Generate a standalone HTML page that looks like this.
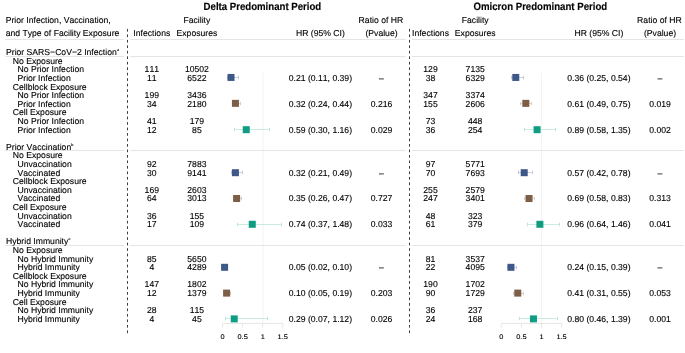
<!DOCTYPE html>
<html><head><meta charset="utf-8"><style>
html,body{margin:0;padding:0;background:#fff;}
body{width:685px;height:353px;overflow:hidden;}
svg{display:block;will-change:transform;font-family:"Liberation Sans",sans-serif;font-size:8.65px;font-kerning:none;text-rendering:geometricPrecision;}
text{fill:#000;stroke:#000;stroke-width:0.12px;}
</style></head><body>
<svg width="685" height="353" viewBox="0 0 685 353">
<rect width="685" height="353" fill="#fff"/>
<text x="5.70" y="23.00">Prior Infection, Vaccination,</text>
<text x="5.70" y="35.60">and Type of Facility Exposure</text>
<text transform="translate(262.40 10.20) scale(1 1.1)" text-anchor="middle" font-size="9.65" font-weight="bold" stroke-width="0.1">Delta Predominant Period</text>
<text x="196.90" y="23.00" text-anchor="middle">Facility</text>
<text x="151.80" y="35.60" text-anchor="middle">Infections</text>
<text x="196.90" y="35.60" text-anchor="middle">Exposures</text>
<text x="320.40" y="35.60" text-anchor="middle">HR (95% CI)</text>
<text x="380.90" y="23.00" text-anchor="middle">Ratio of HR</text>
<text x="381.50" y="35.60" text-anchor="middle">(Pvalue)</text>
<text transform="translate(540.30 10.20) scale(1 1.1)" text-anchor="middle" font-size="9.65" font-weight="bold" stroke-width="0.1">Omicron Predominant Period</text>
<text x="475.20" y="23.00" text-anchor="middle">Facility</text>
<text x="430.50" y="35.60" text-anchor="middle">Infections</text>
<text x="475.20" y="35.60" text-anchor="middle">Exposures</text>
<text x="598.90" y="35.60" text-anchor="middle">HR (95% CI)</text>
<text x="659.40" y="23.00" text-anchor="middle">Ratio of HR</text>
<text x="660.00" y="35.60" text-anchor="middle">(Pvalue)</text>
<line x1="263.00" y1="73" x2="263.00" y2="323.4" stroke="#f3f3f3" stroke-width="1"/>
<line x1="541.50" y1="73" x2="541.50" y2="323.4" stroke="#f3f3f3" stroke-width="1"/>
<line x1="5" y1="39.5" x2="124" y2="39.5" stroke="#e5e5e5" stroke-width="1"/>
<line x1="130" y1="39.5" x2="405.7" y2="39.5" stroke="#e5e5e5" stroke-width="1"/>
<line x1="412" y1="39.5" x2="683.7" y2="39.5" stroke="#e5e5e5" stroke-width="1"/>
<line x1="5" y1="56.5" x2="124" y2="56.5" stroke="#e5e5e5" stroke-width="1"/>
<line x1="130" y1="56.5" x2="405.7" y2="56.5" stroke="#e5e5e5" stroke-width="1"/>
<line x1="412" y1="56.5" x2="683.7" y2="56.5" stroke="#e5e5e5" stroke-width="1"/>
<line x1="5" y1="150.5" x2="124" y2="150.5" stroke="#e5e5e5" stroke-width="1"/>
<line x1="130" y1="150.5" x2="405.7" y2="150.5" stroke="#e5e5e5" stroke-width="1"/>
<line x1="412" y1="150.5" x2="683.7" y2="150.5" stroke="#e5e5e5" stroke-width="1"/>
<line x1="5" y1="245.5" x2="124" y2="245.5" stroke="#e5e5e5" stroke-width="1"/>
<line x1="130" y1="245.5" x2="405.7" y2="245.5" stroke="#e5e5e5" stroke-width="1"/>
<line x1="412" y1="245.5" x2="683.7" y2="245.5" stroke="#e5e5e5" stroke-width="1"/>
<text x="6.00" y="55.20">Prior SARS−CoV−2 Infection</text>
<text x="116.96" y="51.20" font-size="3.8" stroke-width="0.25">a</text>
<text x="12.80" y="63.80">No Exposure</text>
<text x="17.50" y="72.40">No Prior Infection</text>
<text x="17.50" y="81.00">Prior Infection</text>
<text x="151.80" y="72.40" text-anchor="middle">111</text>
<text x="196.90" y="72.40" text-anchor="middle">10502</text>
<text x="151.80" y="81.00" text-anchor="middle">11</text>
<text x="196.90" y="81.00" text-anchor="middle">6522</text>
<text x="320.40" y="81.00" text-anchor="middle">0.21 (0.11, 0.39)</text>
<text x="381.50" y="81.00" text-anchor="middle">–</text>
<line x1="227.01" y1="77.50" x2="238.24" y2="77.50" stroke="#cbd2e1" stroke-width="1"/>
<line x1="227.50" y1="75.75" x2="227.50" y2="79.25" stroke="#c2cadc" stroke-width="1"/>
<line x1="238.50" y1="75.75" x2="238.50" y2="79.25" stroke="#c2cadc" stroke-width="1"/>
<rect x="227.52" y="73.95" width="7" height="7" fill="#3e588a"/>
<text x="430.50" y="72.40" text-anchor="middle">129</text>
<text x="475.20" y="72.40" text-anchor="middle">7135</text>
<text x="430.50" y="81.00" text-anchor="middle">38</text>
<text x="475.20" y="81.00" text-anchor="middle">6329</text>
<text x="598.90" y="81.00" text-anchor="middle">0.36 (0.25, 0.54)</text>
<text x="660.00" y="81.00" text-anchor="middle">–</text>
<line x1="511.35" y1="77.50" x2="523.01" y2="77.50" stroke="#cbd2e1" stroke-width="1"/>
<line x1="511.50" y1="75.75" x2="511.50" y2="79.25" stroke="#c2cadc" stroke-width="1"/>
<line x1="523.50" y1="75.75" x2="523.50" y2="79.25" stroke="#c2cadc" stroke-width="1"/>
<rect x="512.27" y="73.95" width="7" height="7" fill="#3e588a"/>
<text x="12.80" y="89.60">Cellblock Exposure</text>
<text x="17.50" y="98.20">No Prior Infection</text>
<text x="17.50" y="106.80">Prior Infection</text>
<text x="151.80" y="98.20" text-anchor="middle">199</text>
<text x="196.90" y="98.20" text-anchor="middle">3436</text>
<text x="151.80" y="106.80" text-anchor="middle">34</text>
<text x="196.90" y="106.80" text-anchor="middle">2180</text>
<text x="320.40" y="106.80" text-anchor="middle">0.32 (0.24, 0.44)</text>
<text x="381.50" y="106.80" text-anchor="middle">0.216</text>
<line x1="232.22" y1="103.50" x2="240.24" y2="103.50" stroke="#e0d7cf" stroke-width="1"/>
<line x1="232.50" y1="101.75" x2="232.50" y2="105.25" stroke="#d9cfc6" stroke-width="1"/>
<line x1="240.50" y1="101.75" x2="240.50" y2="105.25" stroke="#d9cfc6" stroke-width="1"/>
<rect x="231.93" y="99.85" width="7" height="7" fill="#7d5e46"/>
<text x="430.50" y="98.20" text-anchor="middle">347</text>
<text x="475.20" y="98.20" text-anchor="middle">3374</text>
<text x="430.50" y="106.80" text-anchor="middle">155</text>
<text x="475.20" y="106.80" text-anchor="middle">2606</text>
<text x="598.90" y="106.80" text-anchor="middle">0.61 (0.49, 0.75)</text>
<text x="660.00" y="106.80" text-anchor="middle">0.019</text>
<line x1="521.00" y1="103.50" x2="531.45" y2="103.50" stroke="#e0d7cf" stroke-width="1"/>
<line x1="520.50" y1="101.75" x2="520.50" y2="105.25" stroke="#d9cfc6" stroke-width="1"/>
<line x1="531.50" y1="101.75" x2="531.50" y2="105.25" stroke="#d9cfc6" stroke-width="1"/>
<rect x="522.32" y="99.85" width="7" height="7" fill="#7d5e46"/>
<text x="12.80" y="115.40">Cell Exposure</text>
<text x="17.50" y="124.00">No Prior Infection</text>
<text x="17.50" y="132.60">Prior Infection</text>
<text x="151.80" y="124.00" text-anchor="middle">41</text>
<text x="196.90" y="124.00" text-anchor="middle">179</text>
<text x="151.80" y="132.60" text-anchor="middle">12</text>
<text x="196.90" y="132.60" text-anchor="middle">85</text>
<text x="320.40" y="132.60" text-anchor="middle">0.59 (0.30, 1.16)</text>
<text x="381.50" y="132.60" text-anchor="middle">0.029</text>
<line x1="234.63" y1="129.50" x2="269.12" y2="129.50" stroke="#cbebe4" stroke-width="1"/>
<line x1="234.50" y1="127.75" x2="234.50" y2="131.25" stroke="#bde5dc" stroke-width="1"/>
<line x1="269.50" y1="127.75" x2="269.50" y2="131.25" stroke="#bde5dc" stroke-width="1"/>
<rect x="242.76" y="126.20" width="7" height="7" fill="#0e9d82"/>
<text x="430.50" y="124.00" text-anchor="middle">73</text>
<text x="475.20" y="124.00" text-anchor="middle">448</text>
<text x="430.50" y="132.60" text-anchor="middle">36</text>
<text x="475.20" y="132.60" text-anchor="middle">254</text>
<text x="598.90" y="132.60" text-anchor="middle">0.89 (0.58, 1.35)</text>
<text x="660.00" y="132.60" text-anchor="middle">0.002</text>
<line x1="524.62" y1="129.50" x2="555.57" y2="129.50" stroke="#cbebe4" stroke-width="1"/>
<line x1="524.50" y1="127.75" x2="524.50" y2="131.25" stroke="#bde5dc" stroke-width="1"/>
<line x1="555.50" y1="127.75" x2="555.50" y2="131.25" stroke="#bde5dc" stroke-width="1"/>
<rect x="533.58" y="126.20" width="7" height="7" fill="#0e9d82"/>
<text x="6.00" y="149.80">Prior Vaccination</text>
<text x="71.29" y="145.80" font-size="3.8" stroke-width="0.25">b</text>
<text x="12.80" y="158.40">No Exposure</text>
<text x="17.50" y="167.00">Unvaccination</text>
<text x="17.50" y="175.60">Vaccinated</text>
<text x="151.80" y="167.00" text-anchor="middle">92</text>
<text x="196.90" y="167.00" text-anchor="middle">7883</text>
<text x="151.80" y="175.60" text-anchor="middle">30</text>
<text x="196.90" y="175.60" text-anchor="middle">9141</text>
<text x="320.40" y="175.60" text-anchor="middle">0.32 (0.21, 0.49)</text>
<text x="381.50" y="175.60" text-anchor="middle">–</text>
<line x1="231.02" y1="172.50" x2="242.25" y2="172.50" stroke="#cbd2e1" stroke-width="1"/>
<line x1="231.50" y1="170.75" x2="231.50" y2="174.25" stroke="#c2cadc" stroke-width="1"/>
<line x1="242.50" y1="170.75" x2="242.50" y2="174.25" stroke="#c2cadc" stroke-width="1"/>
<rect x="231.93" y="169.20" width="7" height="7" fill="#3e588a"/>
<text x="430.50" y="167.00" text-anchor="middle">97</text>
<text x="475.20" y="167.00" text-anchor="middle">5771</text>
<text x="430.50" y="175.60" text-anchor="middle">70</text>
<text x="475.20" y="175.60" text-anchor="middle">7693</text>
<text x="598.90" y="175.60" text-anchor="middle">0.57 (0.42, 0.78)</text>
<text x="660.00" y="175.60" text-anchor="middle">–</text>
<line x1="518.18" y1="172.50" x2="532.66" y2="172.50" stroke="#cbd2e1" stroke-width="1"/>
<line x1="518.50" y1="170.75" x2="518.50" y2="174.25" stroke="#c2cadc" stroke-width="1"/>
<line x1="532.50" y1="170.75" x2="532.50" y2="174.25" stroke="#c2cadc" stroke-width="1"/>
<rect x="520.71" y="169.20" width="7" height="7" fill="#3e588a"/>
<text x="12.80" y="184.20">Cellblock Exposure</text>
<text x="17.50" y="192.80">Unvaccination</text>
<text x="17.50" y="201.40">Vaccinated</text>
<text x="151.80" y="192.80" text-anchor="middle">169</text>
<text x="196.90" y="192.80" text-anchor="middle">2603</text>
<text x="151.80" y="201.40" text-anchor="middle">64</text>
<text x="196.90" y="201.40" text-anchor="middle">3013</text>
<text x="320.40" y="201.40" text-anchor="middle">0.35 (0.26, 0.47)</text>
<text x="381.50" y="201.40" text-anchor="middle">0.727</text>
<line x1="233.03" y1="198.50" x2="241.45" y2="198.50" stroke="#e0d7cf" stroke-width="1"/>
<line x1="233.50" y1="196.75" x2="233.50" y2="200.25" stroke="#d9cfc6" stroke-width="1"/>
<line x1="241.50" y1="196.75" x2="241.50" y2="200.25" stroke="#d9cfc6" stroke-width="1"/>
<rect x="233.13" y="195.00" width="7" height="7" fill="#7d5e46"/>
<text x="430.50" y="192.80" text-anchor="middle">255</text>
<text x="475.20" y="192.80" text-anchor="middle">2579</text>
<text x="430.50" y="201.40" text-anchor="middle">247</text>
<text x="475.20" y="201.40" text-anchor="middle">3401</text>
<text x="598.90" y="201.40" text-anchor="middle">0.69 (0.58, 0.83)</text>
<text x="660.00" y="201.40" text-anchor="middle">0.313</text>
<line x1="524.62" y1="198.50" x2="534.67" y2="198.50" stroke="#e0d7cf" stroke-width="1"/>
<line x1="524.50" y1="196.75" x2="524.50" y2="200.25" stroke="#d9cfc6" stroke-width="1"/>
<line x1="534.50" y1="196.75" x2="534.50" y2="200.25" stroke="#d9cfc6" stroke-width="1"/>
<rect x="525.54" y="195.00" width="7" height="7" fill="#7d5e46"/>
<text x="12.80" y="210.00">Cell Exposure</text>
<text x="17.50" y="218.60">Unvaccination</text>
<text x="17.50" y="227.20">Vaccinated</text>
<text x="151.80" y="218.60" text-anchor="middle">36</text>
<text x="196.90" y="218.60" text-anchor="middle">155</text>
<text x="151.80" y="227.20" text-anchor="middle">17</text>
<text x="196.90" y="227.20" text-anchor="middle">109</text>
<text x="320.40" y="227.20" text-anchor="middle">0.74 (0.37, 1.48)</text>
<text x="381.50" y="227.20" text-anchor="middle">0.033</text>
<line x1="237.44" y1="224.50" x2="281.95" y2="224.50" stroke="#cbebe4" stroke-width="1"/>
<line x1="237.50" y1="222.75" x2="237.50" y2="226.25" stroke="#bde5dc" stroke-width="1"/>
<line x1="281.50" y1="222.75" x2="281.50" y2="226.25" stroke="#bde5dc" stroke-width="1"/>
<rect x="248.77" y="220.80" width="7" height="7" fill="#0e9d82"/>
<text x="430.50" y="218.60" text-anchor="middle">48</text>
<text x="475.20" y="218.60" text-anchor="middle">323</text>
<text x="430.50" y="227.20" text-anchor="middle">61</text>
<text x="475.20" y="227.20" text-anchor="middle">379</text>
<text x="598.90" y="227.20" text-anchor="middle">0.96 (0.64, 1.46)</text>
<text x="660.00" y="227.20" text-anchor="middle">0.041</text>
<line x1="527.03" y1="224.50" x2="559.99" y2="224.50" stroke="#cbebe4" stroke-width="1"/>
<line x1="527.50" y1="222.75" x2="527.50" y2="226.25" stroke="#bde5dc" stroke-width="1"/>
<line x1="559.50" y1="222.75" x2="559.50" y2="226.25" stroke="#bde5dc" stroke-width="1"/>
<rect x="536.39" y="220.80" width="7" height="7" fill="#0e9d82"/>
<text x="6.00" y="244.40">Hybrid Immunity</text>
<text x="68.38" y="240.40" font-size="3.8" stroke-width="0.25">c</text>
<text x="12.80" y="253.00">No Exposure</text>
<text x="17.50" y="261.60">No Hybrid Immunity</text>
<text x="17.50" y="270.20">Hybrid Immunity</text>
<text x="151.80" y="261.60" text-anchor="middle">85</text>
<text x="196.90" y="261.60" text-anchor="middle">5650</text>
<text x="151.80" y="270.20" text-anchor="middle">4</text>
<text x="196.90" y="270.20" text-anchor="middle">4289</text>
<text x="320.40" y="270.20" text-anchor="middle">0.05 (0.02, 0.10)</text>
<text x="381.50" y="270.20" text-anchor="middle">–</text>
<line x1="223.40" y1="267.50" x2="226.61" y2="267.50" stroke="#cbd2e1" stroke-width="1"/>
<line x1="223.50" y1="265.75" x2="223.50" y2="269.25" stroke="#c2cadc" stroke-width="1"/>
<line x1="226.50" y1="265.75" x2="226.50" y2="269.25" stroke="#c2cadc" stroke-width="1"/>
<rect x="221.10" y="263.80" width="7" height="7" fill="#3e588a"/>
<text x="430.50" y="261.60" text-anchor="middle">81</text>
<text x="475.20" y="261.60" text-anchor="middle">3537</text>
<text x="430.50" y="270.20" text-anchor="middle">22</text>
<text x="475.20" y="270.20" text-anchor="middle">4095</text>
<text x="598.90" y="270.20" text-anchor="middle">0.24 (0.15, 0.39)</text>
<text x="660.00" y="270.20" text-anchor="middle">–</text>
<line x1="507.33" y1="267.50" x2="516.98" y2="267.50" stroke="#cbd2e1" stroke-width="1"/>
<line x1="507.50" y1="265.75" x2="507.50" y2="269.25" stroke="#c2cadc" stroke-width="1"/>
<line x1="516.50" y1="265.75" x2="516.50" y2="269.25" stroke="#c2cadc" stroke-width="1"/>
<rect x="507.45" y="263.80" width="7" height="7" fill="#3e588a"/>
<text x="12.80" y="278.80">Cellblock Exposure</text>
<text x="17.50" y="287.40">No Hybrid Immunity</text>
<text x="17.50" y="296.00">Hybrid Immunity</text>
<text x="151.80" y="287.40" text-anchor="middle">147</text>
<text x="196.90" y="287.40" text-anchor="middle">1802</text>
<text x="151.80" y="296.00" text-anchor="middle">12</text>
<text x="196.90" y="296.00" text-anchor="middle">1379</text>
<text x="320.40" y="296.00" text-anchor="middle">0.10 (0.05, 0.19)</text>
<text x="381.50" y="296.00" text-anchor="middle">0.203</text>
<line x1="224.60" y1="293.50" x2="230.22" y2="293.50" stroke="#e0d7cf" stroke-width="1"/>
<line x1="224.50" y1="291.75" x2="224.50" y2="295.25" stroke="#d9cfc6" stroke-width="1"/>
<line x1="230.50" y1="291.75" x2="230.50" y2="295.25" stroke="#d9cfc6" stroke-width="1"/>
<rect x="223.11" y="289.60" width="7" height="7" fill="#7d5e46"/>
<text x="430.50" y="287.40" text-anchor="middle">190</text>
<text x="475.20" y="287.40" text-anchor="middle">1702</text>
<text x="430.50" y="296.00" text-anchor="middle">90</text>
<text x="475.20" y="296.00" text-anchor="middle">1729</text>
<text x="598.90" y="296.00" text-anchor="middle">0.41 (0.31, 0.55)</text>
<text x="660.00" y="296.00" text-anchor="middle">0.053</text>
<line x1="513.76" y1="293.50" x2="523.41" y2="293.50" stroke="#e0d7cf" stroke-width="1"/>
<line x1="513.50" y1="291.75" x2="513.50" y2="295.25" stroke="#d9cfc6" stroke-width="1"/>
<line x1="523.50" y1="291.75" x2="523.50" y2="295.25" stroke="#d9cfc6" stroke-width="1"/>
<rect x="514.28" y="289.60" width="7" height="7" fill="#7d5e46"/>
<text x="12.80" y="304.60">Cell Exposure</text>
<text x="17.50" y="313.20">No Hybrid Immunity</text>
<text x="17.50" y="321.80">Hybrid Immunity</text>
<text x="151.80" y="313.20" text-anchor="middle">28</text>
<text x="196.90" y="313.20" text-anchor="middle">115</text>
<text x="151.80" y="321.80" text-anchor="middle">4</text>
<text x="196.90" y="321.80" text-anchor="middle">45</text>
<text x="320.40" y="321.80" text-anchor="middle">0.29 (0.07, 1.12)</text>
<text x="381.50" y="321.80" text-anchor="middle">0.026</text>
<line x1="225.41" y1="318.50" x2="267.51" y2="318.50" stroke="#cbebe4" stroke-width="1"/>
<line x1="225.50" y1="316.75" x2="225.50" y2="320.25" stroke="#bde5dc" stroke-width="1"/>
<line x1="267.50" y1="316.75" x2="267.50" y2="320.25" stroke="#bde5dc" stroke-width="1"/>
<rect x="230.73" y="315.40" width="7" height="7" fill="#0e9d82"/>
<text x="430.50" y="313.20" text-anchor="middle">36</text>
<text x="475.20" y="313.20" text-anchor="middle">237</text>
<text x="430.50" y="321.80" text-anchor="middle">24</text>
<text x="475.20" y="321.80" text-anchor="middle">168</text>
<text x="598.90" y="321.80" text-anchor="middle">0.80 (0.46, 1.39)</text>
<text x="660.00" y="321.80" text-anchor="middle">0.001</text>
<line x1="519.79" y1="318.50" x2="557.18" y2="318.50" stroke="#cbebe4" stroke-width="1"/>
<line x1="519.50" y1="316.75" x2="519.50" y2="320.25" stroke="#bde5dc" stroke-width="1"/>
<line x1="557.50" y1="316.75" x2="557.50" y2="320.25" stroke="#bde5dc" stroke-width="1"/>
<rect x="529.96" y="315.40" width="7" height="7" fill="#0e9d82"/>
<line x1="222.60" y1="323.4" x2="282.75" y2="323.4" stroke="#e6e6e6" stroke-width="1"/>
<line x1="222.60" y1="323.4" x2="222.60" y2="327.6" stroke="#e6e6e6" stroke-width="1"/>
<text transform="translate(222.60 338.70) scale(1 0.9)" text-anchor="middle" font-size="7.4" fill="#222" stroke="#222">0</text>
<line x1="242.65" y1="323.4" x2="242.65" y2="327.6" stroke="#e6e6e6" stroke-width="1"/>
<text transform="translate(242.65 338.70) scale(1 0.9)" text-anchor="middle" font-size="7.4" fill="#222" stroke="#222">0.5</text>
<line x1="262.70" y1="323.4" x2="262.70" y2="327.6" stroke="#e6e6e6" stroke-width="1"/>
<text transform="translate(262.70 338.70) scale(1 0.9)" text-anchor="middle" font-size="7.4" fill="#222" stroke="#222">1</text>
<line x1="282.75" y1="323.4" x2="282.75" y2="327.6" stroke="#e6e6e6" stroke-width="1"/>
<text transform="translate(282.75 338.70) scale(1 0.9)" text-anchor="middle" font-size="7.4" fill="#222" stroke="#222">1.5</text>
<line x1="501.30" y1="323.4" x2="561.60" y2="323.4" stroke="#e6e6e6" stroke-width="1"/>
<line x1="501.30" y1="323.4" x2="501.30" y2="327.6" stroke="#e6e6e6" stroke-width="1"/>
<text transform="translate(501.30 338.70) scale(1 0.9)" text-anchor="middle" font-size="7.4" fill="#222" stroke="#222">0</text>
<line x1="521.40" y1="323.4" x2="521.40" y2="327.6" stroke="#e6e6e6" stroke-width="1"/>
<text transform="translate(521.40 338.70) scale(1 0.9)" text-anchor="middle" font-size="7.4" fill="#222" stroke="#222">0.5</text>
<line x1="541.50" y1="323.4" x2="541.50" y2="327.6" stroke="#e6e6e6" stroke-width="1"/>
<text transform="translate(541.50 338.70) scale(1 0.9)" text-anchor="middle" font-size="7.4" fill="#222" stroke="#222">1</text>
<line x1="561.60" y1="323.4" x2="561.60" y2="327.6" stroke="#e6e6e6" stroke-width="1"/>
<text transform="translate(561.60 338.70) scale(1 0.9)" text-anchor="middle" font-size="7.4" fill="#222" stroke="#222">1.5</text>
<line x1="127.5" y1="28.9" x2="127.5" y2="333.2" stroke="#3c3c3c" stroke-width="1" stroke-dasharray="2.7 2.782"/>
<line x1="409.5" y1="28.9" x2="409.5" y2="333.2" stroke="#3c3c3c" stroke-width="1" stroke-dasharray="2.7 2.782"/>
</svg>
</body></html>
